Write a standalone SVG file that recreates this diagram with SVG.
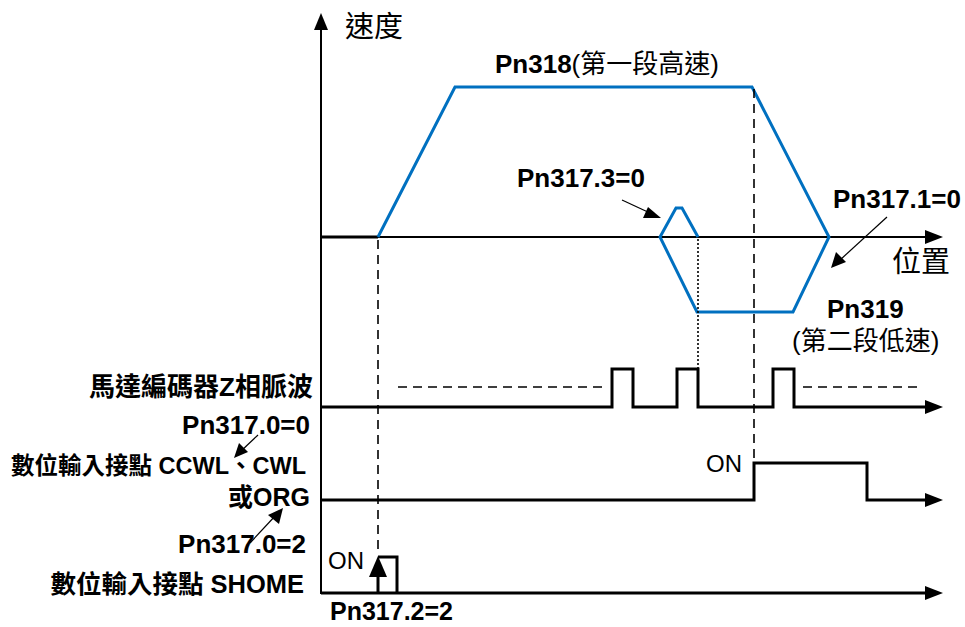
<svg xmlns="http://www.w3.org/2000/svg" width="965" height="627" viewBox="0 0 965 627">
<style>
text{font-family:"Liberation Sans","Noto Sans CJK TC",sans-serif;fill:#000}
.b{font-weight:bold;font-size:26px}
.n{font-weight:normal;font-size:26px}
.on{font-weight:normal;font-size:24px}
.big{font-weight:normal;font-size:29px}
.ax{stroke:#000;stroke-width:2;fill:none}
.sig{stroke:#000;stroke-width:3;fill:none;stroke-linejoin:miter}
.dash{stroke:#000;stroke-width:1.6;fill:none;stroke-dasharray:9,6}
.dot{stroke:#000;stroke-width:1.6;fill:none;stroke-dasharray:2,2}
.thin{stroke:#000;stroke-width:1.2;fill:none}
.blue{stroke:#0070C0;stroke-width:3;fill:none;stroke-linejoin:miter}
.ah{fill:#000;stroke:none}
</style>
<rect width="965" height="627" fill="#fff"/>
<g id="connectors">
<line class="ax" x1="321" y1="28" x2="321" y2="594"/>
<polygon class="ah" points="321,13 314,30 328,30"/>
<line class="ax" x1="321" y1="237" x2="928" y2="237"/>
<polygon class="ah" points="943,237 925,230 925,244"/>
<line class="sig" x1="321" y1="237" x2="378" y2="237"/>
<path class="blue" d="M378,237 L455,87 L752,87 L829,237 L793,312 L697,312 L660,237 L676,208 L682,208 L698,237"/>
<line class="dash" x1="378" y1="240" x2="378" y2="550"/>
<line class="dash" x1="754" y1="89" x2="754" y2="462"/>
<line class="dot" x1="698" y1="239" x2="698" y2="368"/>
<line class="dash" x1="398" y1="387" x2="606" y2="387"/>
<line class="dash" x1="803" y1="387" x2="922" y2="387"/>
<path class="sig" d="M321,407 H612 V369 H633 V407 H677 V369 H698 V407 H773 V369 H794 V407 H928"/>
<polygon class="ah" points="943,407 925,400 925,414"/>
<path class="sig" d="M321,500 H754 V463 H867 V500 H928"/>
<polygon class="ah" points="943,500 925,493 925,507"/>
<path class="sig" d="M321,593 H928"/>
<polygon class="ah" points="943,593 925,586 925,600"/>
<path class="sig" d="M378,576 V593 M378,557 H397 V593"/>
<polygon class="ah" points="378,556 369,577 387,577"/>
<line class="thin" x1="622" y1="200" x2="650" y2="213"/>
<polygon class="ah" points="661,218 643,218 648,207"/>
<line class="thin" x1="887" y1="217" x2="840" y2="260"/>
<polygon class="ah" points="831,268 836,252 846,262"/>
<line class="thin" x1="258" y1="435" x2="240" y2="452"/>
<polygon class="ah" points="234,458 239,443 248,452"/>
<line class="thin" x1="250" y1="543" x2="276" y2="515"/>
<polygon class="ah" points="283,508 279,524 268,515"/>
</g>
<g id="n-speed"><text class="big" x="345" y="37">速度</text></g>
<g id="n-position"><text class="big" x="892" y="272">位置</text></g>
<g id="n-pn318"><text x="495" y="73"><tspan class="b">Pn318</tspan><tspan class="n">(第一段高速)</tspan></text></g>
<g id="n-pn3173"><text class="b" x="517" y="187">Pn317.3=0</text></g>
<g id="n-pn3171"><text class="b" x="833" y="208">Pn317.1=0</text></g>
<g id="n-pn319"><text class="b" x="827" y="318">Pn319</text><text class="n" x="792" y="350">(第二段低速)</text></g>
<g id="n-z"><text class="b" x="313" y="396" text-anchor="end">馬達編碼器Z相脈波</text></g>
<g id="n-pn3170a"><text class="b" x="310" y="434" text-anchor="end">Pn317.0=0</text></g>
<g id="n-ccwl"><text class="b" x="306" y="474" text-anchor="end" style="font-size:23.5px">數位輸入接點 CCWL、CWL</text><text class="b" x="310" y="506" text-anchor="end" style="font-size:25px">或ORG</text></g>
<g id="n-pn3170b"><text class="b" x="306" y="553" text-anchor="end">Pn317.0=2</text></g>
<g id="n-shome"><text class="b" x="304" y="593" text-anchor="end" style="font-size:25.5px">數位輸入接點 SHOME</text></g>
<g id="n-on1"><text class="on" x="328" y="569">ON</text></g>
<g id="n-on2"><text class="on" x="706" y="472">ON</text></g>
<g id="n-pn3172"><text class="b" x="330" y="620" style="font-size:25px">Pn317.2=2</text></g>
</svg>
